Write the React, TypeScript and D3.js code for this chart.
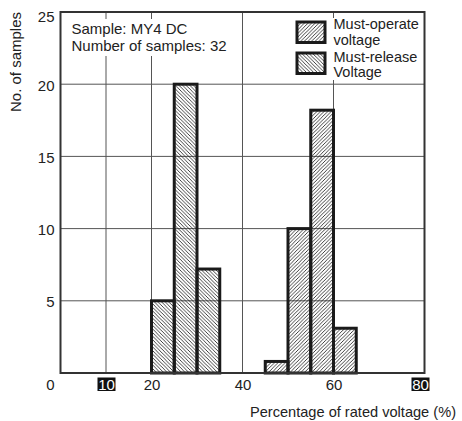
import React from "react";
import * as d3 from "d3";

const binStarts = [20, 25, 30, 45, 50, 55, 60];
const binWidth = 5;
const releaseValues = [5, 20, 7.2, 0, 0, 0, 0];
const operateValues = [0, 0, 0, 0.8, 10, 18.2, 3.1];
const yTicks = [5, 10, 15, 20, 25];
const xTicks = [0, 10, 20, 40, 60, 80];
const xGrid = [10, 20, 40, 60];
const highlightedTicks = [10, 80];
const legendItems = [
  { lines: ["Must-operate", "voltage"], pattern: "hatchOperate" },
  { lines: ["Must-release", "Voltage"], pattern: "hatchRelease" },
];
const noteLines = ["Sample: MY4 DC", "Number of samples: 32"];

const W = 462;
const H = 421;
const FONT = "'Liberation Sans', Arial, Helvetica, sans-serif";

export default function App() {
  const x = d3.scaleLinear().domain([0, 80]).range([60.5, 424.5]);
  const y = d3.scaleLinear().domain([0, 25]).range([373, 12]);

  const bars: { x0: number; v: number; p: string }[] = [];
  binStarts.forEach((b, i) => {
    if (releaseValues[i] > 0) bars.push({ x0: b, v: releaseValues[i], p: "hatchRelease" });
    if (operateValues[i] > 0) bars.push({ x0: b, v: operateValues[i], p: "hatchOperate" });
  });

  const tickX = (t: number) => {
    if (t === 0) return x(t) - 10;
    if (t === 80) return x(t) - 4;
    return x(t) + 0.5;
  };

  return (
    <svg
      width={W}
      height={H}
      style={{ position: "absolute", left: 0, top: 0, background: "#fff" }}
      fontFamily={FONT}
    >
      <defs>
        <pattern id="hatchOperate" patternUnits="userSpaceOnUse" width={3.6} height={3.6}>
          <path d="M-0.9,0.9 L0.9,-0.9 M0,3.6 L3.6,0 M2.7,4.5 L4.5,2.7" stroke="#111" strokeWidth={0.8} />
        </pattern>
        <pattern id="hatchRelease" patternUnits="userSpaceOnUse" width={3.6} height={3.6}>
          <path d="M-0.9,2.7 L0.9,4.5 M0,0 L3.6,3.6 M2.7,-0.9 L4.5,0.9" stroke="#111" strokeWidth={0.8} />
        </pattern>
      </defs>
      <rect x={0} y={0} width={W} height={H} fill="#fff" />

      {/* gridlines */}
      {yTicks.filter((t) => t < 25).map((t) => (
        <line key={"hy" + t} x1={x(0)} x2={x(80)} y1={y(t)} y2={y(t)} stroke="#555" strokeWidth={1} />
      ))}
      {xGrid.map((t) => (
        <line key={"vx" + t} x1={x(t)} x2={x(t)} y1={y(25)} y2={y(0)} stroke="#555" strokeWidth={1} />
      ))}

      {/* bars */}
      {bars.map((b, i) => (
        <rect
          key={i}
          x={x(b.x0)}
          y={y(b.v)}
          width={x(b.x0 + binWidth) - x(b.x0)}
          height={y(0) - y(b.v)}
          fill={`url(#${b.p})`}
          stroke="#1a1a1a"
          strokeWidth={3}
        />
      ))}

      {/* note box */}
      <rect x={66} y={19} width={174} height={37} fill="#fff" />
      {noteLines.map((l, i) => (
        <text key={l} x={71.5} y={33.5 + i * 17.5} fontSize={15} fill="#222">
          {l}
        </text>
      ))}

      {/* legend */}
      <rect x={292} y={18} width={131} height={62} fill="#fff" />
      {legendItems.map((it, i) => (
        <g key={it.pattern}>
          <rect
            x={297}
            y={22 + i * 31}
            width={28}
            height={20.5}
            fill={`url(#${it.pattern})`}
            stroke="#1a1a1a"
            strokeWidth={3}
          />
          {it.lines.map((l, j) => (
            <text key={l} x={333.5} y={29 + i * 32.5 + j * 15.5} fontSize={14.5} fill="#222">
              {l}
            </text>
          ))}
        </g>
      ))}

      {/* frame */}
      <rect x={x(0)} y={y(25)} width={x(80) - x(0)} height={y(0) - y(25)} fill="none" stroke="#333" strokeWidth={2} />

      {/* y tick labels */}
      {yTicks.map((t) => (
        <text
          key={"yt" + t}
          x={54.5}
          y={Math.max(y(t) + 1, 17) + 5.4}
          fontSize={15}
          textAnchor="end"
          fill="#222"
        >
          {t}
        </text>
      ))}

      {/* x tick labels */}
      {xTicks.map((t) => {
        const hl = highlightedTicks.includes(t);
        const cx = tickX(t);
        return (
          <g key={"xt" + t}>
            {hl && <rect x={cx - 9} y={377.5} width={18} height={13.5} fill="#111" />}
            <text x={cx} y={389.5} fontSize={15} textAnchor="middle" fill={hl ? "#fff" : "#222"}>
              {t}
            </text>
          </g>
        );
      })}

      {/* axis titles */}
      <text x={456} y={417} fontSize={14.6} textAnchor="end" fill="#222">
        Percentage of rated voltage (%)
      </text>
      <text transform="translate(20.5,62) rotate(-90)" fontSize={15} textAnchor="middle" fill="#222">
        No. of samples
      </text>
    </svg>
  );
}
